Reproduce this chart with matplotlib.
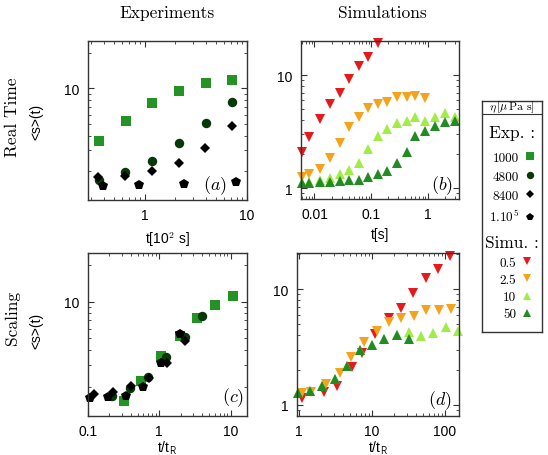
import numpy as np
import matplotlib
matplotlib.use("Agg")
import matplotlib.pyplot as plt
from matplotlib.lines import Line2D
from matplotlib.ticker import LogLocator, FuncFormatter, NullFormatter

plt.rcParams["font.family"] = "Liberation Sans"
plt.rcParams["mathtext.fontset"] = "cm"

# -------------------- data --------------------
# (a) experiments, real time  (t in 10^2 s)
a_sq_x = [0.362, 0.66, 1.19, 2.17, 3.94, 7.13]
a_sq_y = [3.63, 5.28, 7.48, 9.55, 11.1, 11.7]
a_ci_x = [0.355, 0.645, 1.18, 2.17, 3.94, 7.13]
a_ci_y = [1.71, 1.97, 2.46, 3.47, 5.14, 7.72]
a_di_x = [0.348, 0.637, 1.18, 2.15, 3.92, 7.13]
a_di_y = [1.79, 1.84, 2.03, 2.36, 3.17, 4.8]
a_pe_x = [0.396, 0.88, 2.43, 7.8]
a_pe_y = [1.52, 1.54, 1.58, 1.64]

# (b) simulations, real time (t in s)
b_x = [0.0060, 0.0081, 0.0126, 0.0191, 0.0282, 0.0411, 0.060, 0.0875, 0.129,
       0.19, 0.28, 0.42, 0.60, 0.89, 1.35, 2.0, 2.96]
b_red_y = [2.1, 2.81, 4.08, 5.49, 7.0, 9.16, 12.0, 14.4, 19.3]
b_or_y = [1.25, 1.32, 1.48, 1.86, 2.5, 3.47, 4.22, 5.12, 5.49, 5.83, 6.4, 6.4, 6.53, 6.2]
b_lg_y = [1.11, 1.13, 1.17, 1.23, 1.32, 1.45, 1.66, 2.22, 2.87, 3.33, 3.76, 3.94,
          4.22, 3.94, 4.22, 4.57, 4.27]
b_dg_y = [1.11, 1.11, 1.13, 1.13, 1.15, 1.17, 1.19, 1.25, 1.32, 1.41, 1.65, 2.1,
          2.9, 3.18, 3.56, 3.86, 3.91]

# (c) experiments, scaled time t/t_R
c_sq_x = [0.319, 0.556, 1.06, 1.94, 3.36, 6.04, 10.7]
c_sq_y = [1.54, 2.24, 3.55, 5.25, 7.28, 9.4, 11.2]
c_ci_x = [0.215, 0.39, 0.695, 1.25, 2.28, 3.98]
c_ci_y = [1.69, 1.97, 2.42, 3.49, 5.09, 7.65]
c_di_x = [0.12, 0.224, 0.40, 0.71, 1.28, 2.28]
c_di_y = [1.73, 1.82, 2.03, 2.35, 3.13, 4.77]
c_pe_x = [0.106, 0.19, 0.336, 0.598, 1.07, 1.96]
c_pe_y = [1.61, 1.64, 1.67, 2.0, 3.13, 5.42]

# (d) simulations, scaled time t/t_R
d_red_x = [1.1, 2.18, 3.26, 5.24, 7.2, 10.9, 17.1, 24.7, 36.8, 54.4, 81, 119]
d_red_y = [1.14, 1.28, 1.46, 2.11, 2.82, 4.12, 5.63, 6.89, 9.3, 12.4, 14.8, 19.5]
d_or_x = [1.08, 1.45, 2.3, 3.62, 5.19, 7.82, 11.6, 17.1, 24.9, 37.2, 55.6, 82, 121]
d_or_y = [1.27, 1.3, 1.51, 1.89, 2.61, 3.51, 4.31, 5.2, 5.6, 5.9, 6.62, 6.57, 6.7]
d_lg_x = [0.97, 1.4, 2.07, 3.09, 4.57, 6.82, 10.1, 14.7, 21.8, 32.1, 47, 69.3, 102.6, 153]
d_lg_y = [1.26, 1.32, 1.46, 1.67, 2.18, 2.95, 3.26, 3.73, 3.98, 4.26, 3.93, 4.18, 4.67, 4.31]
d_dg_x = [0.97, 1.4, 2.07, 3.09, 4.57, 6.82, 10.1, 14.7, 21.8, 32.1]
d_dg_y = [1.26, 1.32, 1.46, 1.67, 2.18, 2.95, 3.26, 3.73, 3.98, 3.67]

exp_labels = ["1000", "4800", "8400", r"1.10$^5$"]
sim_labels = ["0.5", "2.5", "10", "50"]

# -------------------- style --------------------
C_SQ, C_CI, C_DI, C_PE = "#259225", "#073807", "black", "black"
C_RED, C_OR, C_LG, C_DG = "#e41a1c", "#f5a31c", "#a2ec48", "#228b22"
EXP_STYLE = [("s", C_SQ, 6.5), ("o", C_CI, 6.8), ("D", C_DI, 5.0), ("p", C_PE, 7.0)]
SIM_STYLE = [("v", C_RED, 6.5), ("v", C_OR, 6.5), ("^", C_LG, 6.5), ("^", C_DG, 6.5)]
SERIF = "cmr10"
SPINE_C = "#333333"

fig = plt.figure(figsize=(5.48, 4.56), dpi=100)

W, H = 548.0, 456.0
def box(l, t, r, b):
    return [l / W, 1 - b / H, (r - l) / W, (b - t) / H]

ax_a = fig.add_axes(box(88, 42, 247, 201))
ax_b = fig.add_axes(box(301, 42, 459, 200))
ax_c = fig.add_axes(box(88, 254, 247, 417))
ax_d = fig.add_axes(box(297, 254, 459, 417))

fmt = FuncFormatter(lambda v, p: f"{v:g}")


def style_axis(ax, xlim, ylim):
    ax.set_xscale("log")
    ax.set_yscale("log")
    ax.set_xlim(*xlim)
    ax.set_ylim(*ylim)
    for axis in (ax.xaxis, ax.yaxis):
        axis.set_major_locator(LogLocator(base=10))
        axis.set_major_formatter(fmt)
        axis.set_minor_locator(LogLocator(base=10, subs=np.arange(2, 10)))
        axis.set_minor_formatter(NullFormatter())
    ax.tick_params(which="both", direction="in", top=True, right=True,
                   labelsize=10, color=SPINE_C)
    ax.tick_params(which="major", length=4, pad=6)
    ax.tick_params(which="minor", length=2)
    for s in ax.spines.values():
        s.set_color(SPINE_C)
        s.set_linewidth(1.0)


def draw_exp(ax, series):
    for (x, y), (m, c, ms) in zip(series, EXP_STYLE):
        ax.plot(x, y, ls="none", marker=m, color=c, ms=ms, mew=0, clip_on=False)


def draw_sim(ax, series):
    for (x, y), (m, c, ms) in zip(series, SIM_STYLE):
        ax.plot(x, y, ls="none", marker=m, color=c, ms=ms, mew=0, clip_on=False)


# (a)
style_axis(ax_a, (0.28, 10), (1.15, 25))
draw_exp(ax_a, [(a_sq_x, a_sq_y), (a_ci_x, a_ci_y), (a_di_x, a_di_y), (a_pe_x, a_pe_y)])
ax_a.set_xlabel(r"t[10$^{\mathsf{2}}$ s]", fontsize=10, labelpad=5)
ax_a.set_ylabel("<s>(t)", fontsize=10)
ax_a.yaxis.set_label_coords(-0.283, 0.5)
ax_a.text(0.875, 0.025, r"$(a)$", transform=ax_a.transAxes, ha="right", va="bottom", fontsize=13)

# (b)
style_axis(ax_b, (0.0058, 3.5), (0.8, 20))
draw_sim(ax_b, [(b_x[:len(b_red_y)], b_red_y), (b_x[:len(b_or_y)], b_or_y),
                (b_x[:len(b_lg_y)], b_lg_y), (b_x[:len(b_dg_y)], b_dg_y)])
ax_b.set_xlabel("t[s]", fontsize=10, labelpad=4)
ax_b.text(0.962, 0.02, r"$(b)$", transform=ax_b.transAxes, ha="right", va="bottom", fontsize=13)

# (c)
style_axis(ax_c, (0.1, 17), (1.15, 25))
draw_exp(ax_c, [(c_sq_x, c_sq_y), (c_ci_x, c_ci_y), (c_di_x, c_di_y), (c_pe_x, c_pe_y)])
ax_c.set_xlabel(r"t/t$_{\mathsf{R}}$", fontsize=10, labelpad=0.5)
ax_c.set_ylabel("<s>(t)", fontsize=10)
ax_c.yaxis.set_label_coords(-0.283, 0.53)
ax_c.text(0.98, 0.05, r"$(c)$", transform=ax_c.transAxes, ha="right", va="bottom", fontsize=13)

# (d)
style_axis(ax_d, (0.93, 156), (0.8, 20.5))
draw_sim(ax_d, [(d_red_x, d_red_y), (d_or_x, d_or_y), (d_lg_x, d_lg_y), (d_dg_x, d_dg_y)])
ax_d.set_xlabel(r"t/t$_{\mathsf{R}}$", fontsize=10, labelpad=0.5)
ax_d.text(0.955, 0.03, r"$(d)$", transform=ax_d.transAxes, ha="right", va="bottom", fontsize=13)

# column / row headers
fig.text(167 / W, 1 - 13 / H, "Experiments", family=SERIF, fontsize=12.5, ha="center", va="center")
fig.text(382 / W, 1 - 13 / H, "Simulations", family=SERIF, fontsize=12.5, ha="center", va="center")
fig.text(12 / W, 1 - 117 / H, "Real Time", family=SERIF, fontsize=12.5, ha="center", va="center", rotation=90)
fig.text(12 / W, 1 - 318 / H, "Scaling", family=SERIF, fontsize=12.5, ha="center", va="center", rotation=90)

# -------------------- legend box --------------------
lax = fig.add_axes(box(482, 102, 542, 333))
lax.set_xticks([])
lax.set_yticks([])
for s in lax.spines.values():
    s.set_color(SPINE_C)
    s.set_linewidth(1.0)
lax.text(0.5, 0.975, r"$\eta\,[\mu\,\mathrm{Pa\ s}]$", transform=lax.transAxes,
         ha="center", va="center", fontsize=8.5)
lax.axhline(0.943, color=SPINE_C, lw=0.8)
lax.text(0.5, 0.865, "Exp. :", transform=lax.transAxes, family=SERIF, fontsize=12.5,
         ha="center", va="center")
lax.text(0.5, 0.39, "Simu. :", transform=lax.transAxes, family=SERIF, fontsize=12.5,
         ha="center", va="center")

exp_handles = [Line2D([], [], ls="none", marker=m, color=c, ms=ms * 0.78, mew=0)
               for m, c, ms in EXP_STYLE]
sim_handles = [Line2D([], [], ls="none", marker=m, color=c, ms=ms * 0.78, mew=0)
               for m, c, ms in SIM_STYLE]

leg_kw = dict(frameon=False, markerfirst=False, prop={"family": SERIF, "size": 9.5},
              handlelength=0.8, handletextpad=0.4, borderpad=0.0, borderaxespad=0.0)
leg1 = lax.legend(exp_handles, exp_labels, loc="upper right", bbox_to_anchor=(0.88, 0.78),
                  labelspacing=0.5, **leg_kw)
lax.add_artist(leg1)
lax.legend(sim_handles, sim_labels, loc="upper right", bbox_to_anchor=(0.83, 0.327),
           labelspacing=0.38, **leg_kw)

fig.savefig("out.png", dpi=100)
